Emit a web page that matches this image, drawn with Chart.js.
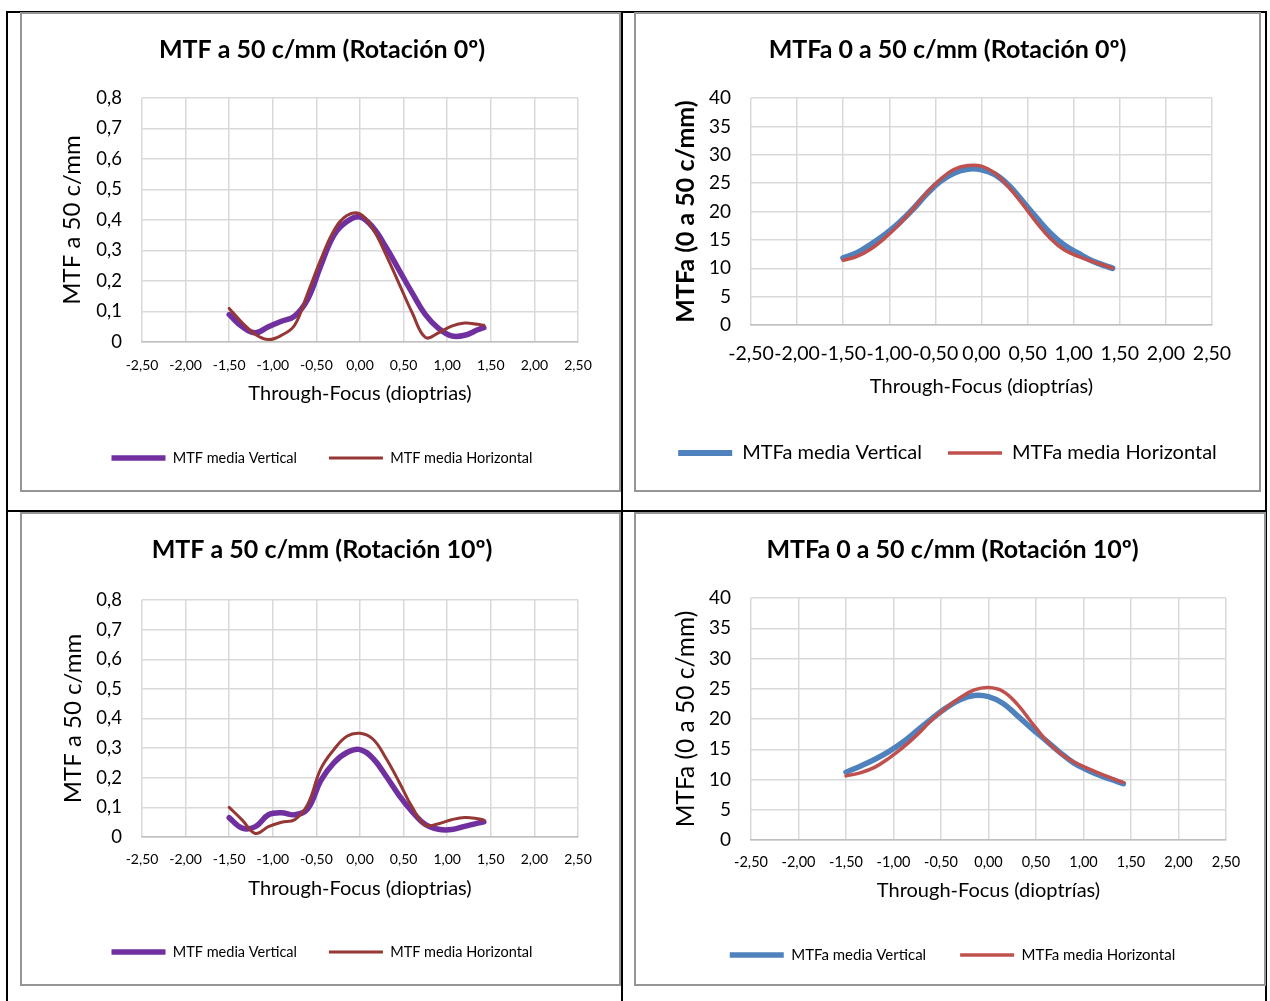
<!DOCTYPE html>
<html lang="es">
<head>
<meta charset="UTF-8">
<title>MTF Through-Focus</title>
<script src="https://cdn.jsdelivr.net/npm/chart.js"></script>
<style>
    body { margin: 0; background: #fff; }
    .linea { position: absolute; background: #000; }
    .caja { position: absolute; border: 2px solid #959595; background: #fff; }
    .caja canvas { display: block; }
</style>
</head>
<body>
    <!-- marco negro de la tabla -->
    <div class="linea" style="left:6px;top:11px;width:1261px;height:2px"></div>
    <div class="linea" style="left:6px;top:11px;width:2px;height:990px"></div>
    <div class="linea" style="left:1265px;top:11px;width:2px;height:990px"></div>
    <div class="linea" style="left:621px;top:11px;width:2px;height:990px"></div>
    <div class="linea" style="left:6px;top:510px;width:1261px;height:2px"></div>

    <div class="caja" style="left:20px;top:12px"><canvas id="g1" width="597" height="476"></canvas></div>
    <div class="caja" style="left:634px;top:12px"><canvas id="g2" width="623" height="476"></canvas></div>
    <div class="caja" style="left:20px;top:512px"><canvas id="g3" width="597" height="470"></canvas></div>
    <div class="caja" style="left:634px;top:512px"><canvas id="g4" width="628" height="470"></canvas></div>

<script>
    // Through-focus (dioptrías)
    const focus = [-1.5, -1.35, -1.2, -1.05, -0.9, -0.75, -0.6, -0.45, -0.3, -0.15, 0, 0.15, 0.3, 0.45, 0.6, 0.75, 0.9, 1.05, 1.2, 1.35, 1.42];

    // Rotación 0º
    const mtfVert0 = [0.09, 0.05, 0.03, 0.05, 0.068, 0.085, 0.14, 0.25, 0.35, 0.395, 0.41, 0.375, 0.31, 0.235, 0.16, 0.09, 0.045, 0.02, 0.022, 0.04, 0.047];
    const mtfHoriz0 = [0.11, 0.063, 0.025, 0.008, 0.022, 0.055, 0.16, 0.27, 0.365, 0.415, 0.42, 0.37, 0.285, 0.19, 0.095, 0.015, 0.03, 0.052, 0.062, 0.058, 0.055];
    const mtfaVert0 = [11.8, 12.7, 14.2, 15.9, 17.9, 20.3, 23.0, 25.3, 26.8, 27.5, 27.4, 26.5, 24.5, 21.7, 18.8, 16.1, 14.0, 12.6, 11.3, 10.4, 10.0];
    const mtfaHoriz0 = [11.4, 12.1, 13.4, 15.3, 17.6, 20.3, 23.2, 25.6, 27.4, 28.1, 28.0, 26.7, 24.2, 21.2, 18.0, 15.2, 13.2, 12.1, 11.2, 10.4, 10.0];

    // Rotación 10º
    const mtfVert10 = [0.065, 0.03, 0.035, 0.075, 0.082, 0.075, 0.095, 0.19, 0.25, 0.285, 0.295, 0.265, 0.205, 0.14, 0.085, 0.042, 0.026, 0.025, 0.036, 0.047, 0.051];
    const mtfHoriz10 = [0.1, 0.057, 0.012, 0.035, 0.05, 0.058, 0.11, 0.23, 0.295, 0.34, 0.35, 0.33, 0.265, 0.185, 0.1, 0.04, 0.045, 0.058, 0.066, 0.062, 0.057];
    const mtfaVert10 = [11.2, 12.2, 13.3, 14.6, 16.2, 18.1, 20.0, 21.8, 23.2, 23.9, 23.7, 22.6, 20.6, 18.5, 16.5, 14.5, 12.7, 11.5, 10.5, 9.7, 9.3];
    const mtfaHoriz10 = [10.6, 11.1, 12.0, 13.5, 15.3, 17.4, 19.8, 21.8, 23.5, 24.8, 25.2, 24.6, 22.5, 19.5, 16.6, 14.4, 12.9, 11.8, 10.8, 9.9, 9.5];

    // ticks
    const xTicks = [-2.5, -2, -1.5, -1, -0.5, 0, 0.5, 1, 1.5, 2, 2.5];
    const mtfTicks = [0, 0.1, 0.2, 0.3, 0.4, 0.5, 0.6, 0.7, 0.8];
    const mtfaTicks = [0, 5, 10, 15, 20, 25, 30, 35, 40];

    const fam = 'Lato, "Open Sans", sans-serif';
    Chart.defaults.font.family = fam;
    Chart.defaults.color = '#000';

    const coma = (v, d) => v.toFixed(d).replace('.', ',');

    function grafico(id, o) {
        const lhT = o.titleFs * 1.2, lhY = o.yTitleFs * 1.2, lhX = o.xTitleFs * 1.2;
        // la leyenda de Chart.js mide fs + padding + 10
        const legTop = o.legCy - o.legPad - o.legFs / 2;
        const legBottom = o.legCy + o.legFs / 2 + 10;
        const canvas = document.getElementById(id);
        const serie = (vals) => focus.map((x, i) => ({ x: x, y: vals[i] }));

        return new Chart(canvas, {
            type: 'line',
            data: {
                datasets: [
                    { label: o.labels[0], data: serie(o.vert), borderColor: o.colors[0], backgroundColor: o.colors[0], borderWidth: o.widths[0], order: 2 },
                    { label: o.labels[1], data: serie(o.horiz), borderColor: o.colors[1], backgroundColor: o.colors[1], borderWidth: o.widths[1], order: 1 }
                ]
            },
            options: {
                responsive: false,
                animation: false,
                layout: { padding: { top: 0, left: o.padL, right: 0, bottom: canvas.height - legBottom } },
                elements: {
                    point: { radius: 0 },
                    line: { tension: 0.4, borderCapStyle: 'round', borderJoinStyle: 'round' }
                },
                plugins: {
                    tooltip: { enabled: false },
                    title: {
                        display: true,
                        text: o.title,
                        font: { size: o.titleFs, weight: 'bold', lineHeight: 1.2 },
                        padding: { top: o.titleCy - lhT / 2, bottom: o.plot.t - o.titleCy - lhT / 2 }
                    },
                    legend: {
                        position: 'bottom',
                        labels: {
                            usePointStyle: true,
                            pointStyle: 'line',
                            pointStyleWidth: o.legBox,
                            padding: o.legPad,
                            font: { size: o.legFs },
                            sort: (a, b) => a.datasetIndex - b.datasetIndex
                        }
                    }
                },
                scales: {
                    x: {
                        type: 'linear',
                        min: -2.5,
                        max: 2.5,
                        afterBuildTicks: s => { s.ticks = xTicks.map(v => ({ value: v })); },
                        afterFit: s => { s.height = legTop - o.plot.b; },
                        grid: { color: '#d9d9d9', lineWidth: 1.5, drawTicks: false },
                        border: { color: '#bfbfbf', width: 1.5 },
                        ticks: {
                            autoSkip: false, maxRotation: 0, minRotation: 0,
                            padding: o.xTickPad,
                            font: { size: o.xTickFs },
                            callback: v => coma(v, 2)
                        },
                        title: {
                            display: true,
                            text: o.xTitle,
                            font: { size: o.xTitleFs, lineHeight: 1.2 },
                            padding: { top: 0, bottom: legTop - o.xTitleCy - lhX / 2 }
                        }
                    },
                    y: {
                        min: 0,
                        max: o.yTicks[o.yTicks.length - 1],
                        afterBuildTicks: s => { s.ticks = o.yTicks.map(v => ({ value: v })); },
                        afterFit: s => { s.width = o.plot.l - o.padL; },
                        grid: { color: '#d9d9d9', lineWidth: 1.5, drawTicks: false },
                        border: { display: false },
                        ticks: {
                            padding: o.yTickPad,
                            font: { size: o.yTickFs },
                            callback: o.yFmt
                        },
                        title: {
                            display: true,
                            text: o.yTitle,
                            font: { size: o.yTitleFs, weight: o.yTitleBold ? 'bold' : 'normal', lineHeight: 1.2 },
                            padding: { top: o.yTitleCx - o.padL - lhY / 2, bottom: 0 }
                        }
                    },
                    derecha: {
                        position: 'right',
                        grid: { display: false },
                        border: { display: false },
                        ticks: { display: false },
                        afterFit: s => { s.width = canvas.width - o.plot.r; }
                    }
                }
            }
        });
    }

    const fmtMtf = v => v === 0 ? '0' : coma(v, 1);
    const fmtMtfa = v => String(v);
    const purpuraMarron = ['#7030a0', '#953735'];
    const azulRojo = ['#4f81bd', '#c0504d'];

    grafico('g1', {
        title: 'MTF a 50 c/mm (Rotación 0º)', titleFs: 25, titleCy: 36,
        plot: { l: 120, r: 556, t: 84, b: 328 }, padL: 3,
        vert: mtfVert0, horiz: mtfHoriz0, colors: purpuraMarron, widths: [5.5, 3],
        labels: ['MTF media Vertical', 'MTF media Horizontal'],
        legCy: 444, legPad: 32, legFs: 14.5, legBox: 54,
        xTitle: 'Through-Focus (dioptrias)', xTitleFs: 20, xTitleCy: 380, xTickFs: 14, xTickPad: 15,
        yTitle: 'MTF a 50 c/mm', yTitleFs: 24, yTitleBold: false, yTitleCx: 50,
        yTicks: mtfTicks, yFmt: fmtMtf, yTickFs: 18.5, yTickPad: 20
    });

    grafico('g2', {
        title: 'MTFa 0 a 50 c/mm (Rotación 0º)', titleFs: 25, titleCy: 36,
        plot: { l: 115, r: 576, t: 84, b: 311 }, padL: 0,
        vert: mtfaVert0, horiz: mtfaHoriz0, colors: azulRojo, widths: [6, 3.5],
        labels: ['MTFa media Vertical', 'MTFa media Horizontal'],
        legCy: 439, legPad: 26, legFs: 20, legBox: 54,
        xTitle: 'Through-Focus (dioptrías)', xTitleFs: 20, xTitleCy: 373, xTickFs: 19.5, xTickPad: 17,
        yTitle: 'MTFa (0 a 50 c/mm)', yTitleFs: 25, yTitleBold: true, yTitleCx: 50,
        yTicks: mtfaTicks, yFmt: fmtMtfa, yTickFs: 19, yTickPad: 20
    });

    grafico('g3', {
        title: 'MTF a 50 c/mm (Rotación 10º)', titleFs: 25, titleCy: 36,
        plot: { l: 120, r: 556, t: 86, b: 323 }, padL: 3,
        vert: mtfVert10, horiz: mtfHoriz10, colors: purpuraMarron, widths: [5.5, 3],
        labels: ['MTF media Vertical', 'MTF media Horizontal'],
        legCy: 438, legPad: 32, legFs: 14.5, legBox: 54,
        xTitle: 'Through-Focus (dioptrias)', xTitleFs: 20, xTitleCy: 375, xTickFs: 14, xTickPad: 14,
        yTitle: 'MTF a 50 c/mm', yTitleFs: 24, yTitleBold: false, yTitleCx: 51,
        yTicks: mtfTicks, yFmt: fmtMtf, yTickFs: 18.5, yTickPad: 20
    });

    grafico('g4', {
        title: 'MTFa 0 a 50 c/mm (Rotación 10º)', titleFs: 25, titleCy: 36,
        plot: { l: 115, r: 590, t: 84, b: 326 }, padL: 5,
        vert: mtfaVert10, horiz: mtfaHoriz10, colors: azulRojo, widths: [5.5, 3.5],
        labels: ['MTFa media Vertical', 'MTFa media Horizontal'],
        legCy: 441, legPad: 34, legFs: 15, legBox: 54,
        xTitle: 'Through-Focus (dioptrías)', xTitleFs: 20, xTitleCy: 377, xTickFs: 14.5, xTickPad: 14,
        yTitle: 'MTFa (0 a 50 c/mm)', yTitleFs: 24.5, yTitleBold: false, yTitleCx: 50,
        yTicks: mtfaTicks, yFmt: fmtMtfa, yTickFs: 19, yTickPad: 20
    });
</script>
</body>
</html>
